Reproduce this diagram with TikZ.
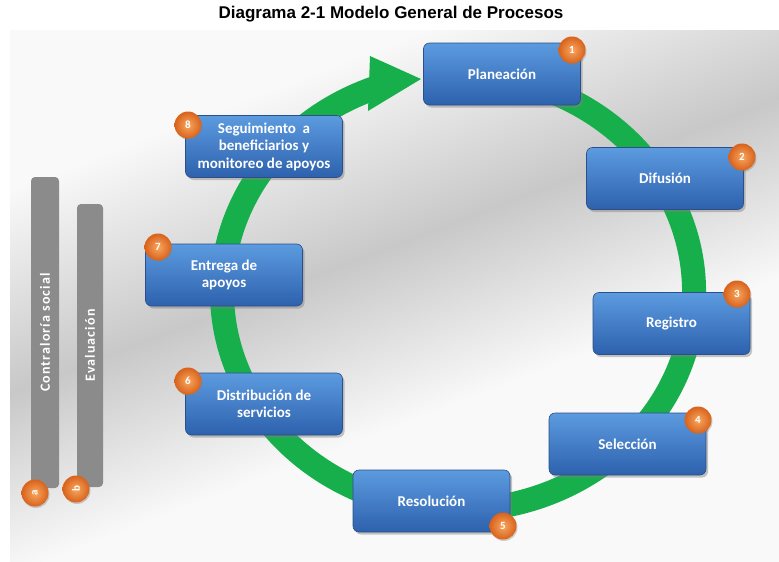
\documentclass[tikz,border=0pt]{standalone}
\usepackage{fontspec}
\setmainfont{Carlito}
\newfontfamily\titlefont{Liberation Sans}
\newfontfamily\barfont[LetterSpace=8]{Carlito}
\usetikzlibrary{shadows,arrows.meta}
\definecolor{boxtop}{HTML}{5C9BE0}
\definecolor{boxbot}{HTML}{2D61AD}
\definecolor{boxedge}{HTML}{2B4F86}
\definecolor{ringgreen}{HTML}{17AF4B}
\definecolor{badgein}{HTML}{F8A760}
\definecolor{badgeout}{HTML}{D8621B}
\definecolor{bargray}{HTML}{8B8B8B}
\definecolor{bggray}{HTML}{C8C8C8}
\definecolor{bglight}{HTML}{F9F9F9}
\tikzset{
  procbox/.style={rectangle, rounded corners=6pt, draw=boxedge, line width=0.6pt,
    top color=boxtop, bottom color=boxbot, minimum width=157pt, minimum height=62pt,
    text=white, font=\bfseries\fontsize{15}{17.5}\selectfont, align=center,
    drop shadow={shadow xshift=2pt, shadow yshift=-2.5pt, opacity=0.45}},
  badge/.style={circle, minimum size=27pt, inner sep=0pt, inner color=badgein, outer color=badgeout,
    text=white, font=\bfseries\fontsize{11}{11}\selectfont,
    drop shadow={shadow xshift=1pt, shadow yshift=-1.5pt, opacity=0.35}},
  sidebar/.style={rectangle, rounded corners=4pt, fill=bargray, rotate=90, text=white,
    font=\barfont\bfseries\fontsize{14}{14}\selectfont, inner sep=0pt},
  ring/.style={draw=ringgreen, line width=24pt}
}
\begin{document}
\begin{tikzpicture}[x=1pt, y=-1pt]
\useasboundingbox (0,0) rectangle (779,562);
% background
\fill[bglight] (10,30) rectangle (779,562);
\begin{scope}
  \clip (10,30) rectangle (779,562);
  \begin{scope}[transform canvas={shift={(395pt,-245pt)}, rotate=21}]
    \shade[top color=bglight, bottom color=bggray] (-900,-190) rectangle (900,0.5);
    \shade[top color=bggray, bottom color=bglight] (-900,0) rectangle (900,170);
  \end{scope}
\end{scope}
% title
\node[font=\titlefont\bfseries\fontsize{17}{19}\selectfont, inner sep=0pt] (title) at (391,14) {Diagrama 2-1 Modelo General de Procesos};
% ring
\draw[ring] (499,77.3) arc[start angle=-80, end angle=250, x radius=236, y radius=218];
\fill[ringgreen] (370,56) -- (421,79) -- (368,111) -- cycle;
% side bars
\node[sidebar, minimum width=311pt, minimum height=28pt] (bara) at (45,332.5) {Contraloría social};
\node[sidebar, minimum width=283pt, minimum height=26pt] (barb) at (90,345.5) {Evaluación};
\node[badge, rotate=90] (ba) at (35,493) {a};
\node[badge, rotate=90] (bb) at (76,489) {b};
% process boxes
\node[procbox] (p1) at (502,74) {Planeación};
\node[procbox] (p2) at (665,178.5) {Difusión};
\node[procbox] (p3) at (671.5,323.5) {Registro};
\node[procbox] (p4) at (627.5,444) {Selección};
\node[procbox] (p5) at (431.5,501) {Resolución};
\node[procbox] (p6) at (264,404) {Distribución de\\servicios};
\node[procbox] (p7) at (224,275) {Entrega de\\apoyos};
\node[procbox] (p8) at (264,146.5) {Seguimiento~ a\\beneficiarios y\\monitoreo de apoyos};
% badges
\node[badge] (n1) at (572,50) {1};
\node[badge] (n2) at (742,157) {2};
\node[badge] (n3) at (737,294) {3};
\node[badge] (n4) at (698,420) {4};
\node[badge] (n5) at (503,526) {5};
\node[badge] (n6) at (188,381) {6};
\node[badge] (n7) at (158,247) {7};
\node[badge] (n8) at (188,125) {8};
\end{tikzpicture}
\end{document}
